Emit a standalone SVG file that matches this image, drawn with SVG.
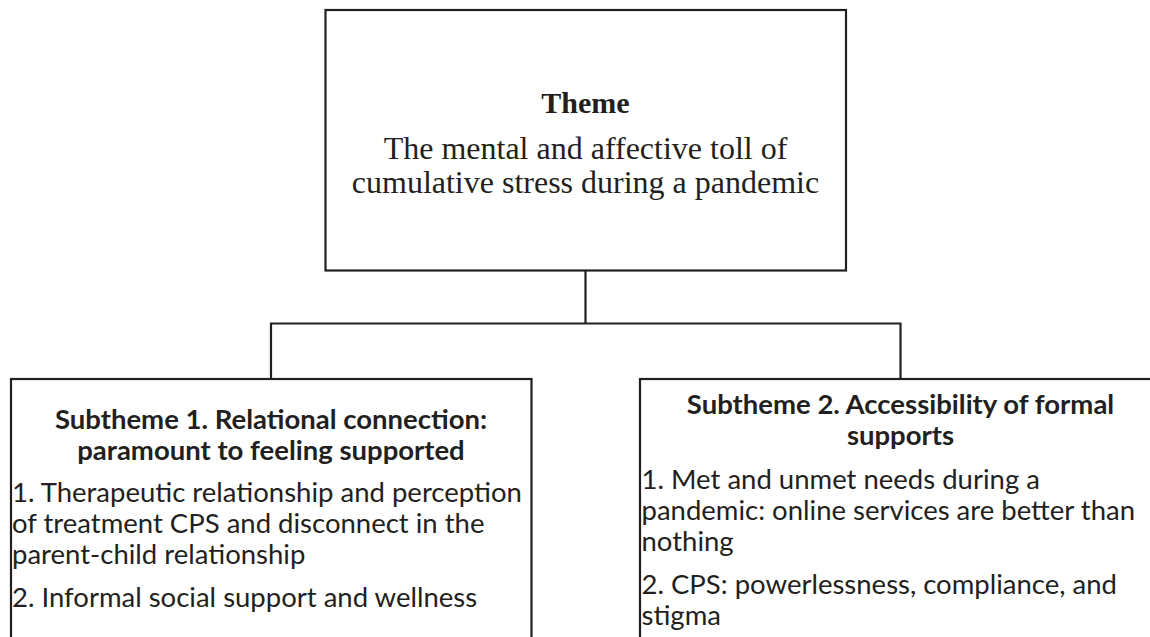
<svg xmlns="http://www.w3.org/2000/svg" width="1150" height="637" viewBox="0 0 1150 637">
<style>
.box{fill:#fff;stroke:#231f20;stroke-width:2.2}
.line{fill:none;stroke:#231f20;stroke-width:2.2}
.serif{font-family:"Liberation Serif","Times New Roman",serif;fill:#231f20;text-anchor:middle}
.hd{font-family:Lato,"Liberation Sans",sans-serif;font-weight:bold;font-size:27.5px;fill:#231f20;text-anchor:middle}
.bd{font-family:Lato,"Liberation Sans",sans-serif;font-size:27.5px;fill:#231f20}
</style>
<rect width="1150" height="637" fill="#fff"/>
<g id="connectors">
<path class="line" d="M585.5 270 V323.5 M271 379 V323.5 H900.5 V379"/>
</g>
<g id="theme">
<rect class="box" x="325.5" y="10" width="520.5" height="260.5"/>
<text class="serif" x="585.5" y="113" font-size="30" font-weight="bold">Theme</text>
<text class="serif" x="585.5" y="159" font-size="32">The mental and affective toll of</text>
<text class="serif" x="585.5" y="193" font-size="32">cumulative stress during a pandemic</text>
</g>
<g id="subtheme1">
<rect class="box" x="11" y="379" width="520.5" height="280"/>
<text class="hd" x="271" y="429">Subtheme 1. Relational connection:</text>
<text class="hd" x="271" y="460">paramount to feeling supported</text>
<text class="bd" x="12" y="502">1. Therapeutic relationship and perception</text>
<text class="bd" x="12" y="533">of treatment CPS and disconnect in the</text>
<text class="bd" x="12" y="564">parent-child relationship</text>
<text class="bd" x="12" y="607">2. Informal social support and wellness</text>
</g>
<g id="subtheme2">
<rect class="box" x="640" y="379" width="540" height="280"/>
<text class="hd" x="900.5" y="414">Subtheme 2. Accessibility of formal</text>
<text class="hd" x="900.5" y="445">supports</text>
<text class="bd" x="641.5" y="489">1. Met and unmet needs during a</text>
<text class="bd" x="641.5" y="520">pandemic: online services are better than</text>
<text class="bd" x="641.5" y="551">nothing</text>
<text class="bd" x="641.5" y="594">2. CPS: powerlessness, compliance, and</text>
<text class="bd" x="641.5" y="625">stigma</text>
</g>
</svg>
